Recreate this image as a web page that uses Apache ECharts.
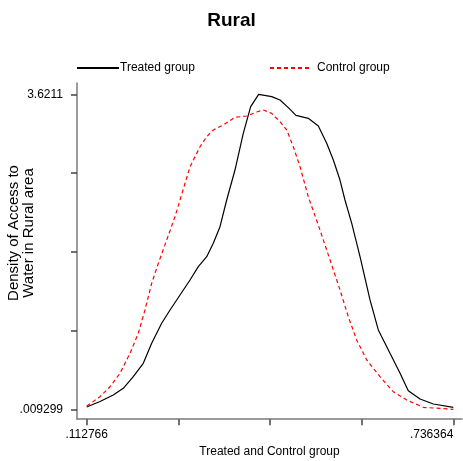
<!DOCTYPE html>
<html>
<head>
<meta charset="utf-8">
<script src="https://cdn.jsdelivr.net/npm/echarts@6/dist/echarts.min.js"></script>
<style>
  html, body { margin: 0; padding: 0; background: #fff; }
  #chart { width: 463px; height: 461px; }
</style>
</head>
<body>
<div id="chart"></div>
<script>
// Kernel density estimates of access to water, rural area
var treatedX = [0.112766, 0.1354, 0.1580, 0.1750, 0.1920, 0.2090, 0.2233, 0.2403, 0.2545, 0.2715,
  0.2885, 0.3026, 0.3169, 0.3281, 0.3395, 0.3509, 0.3650, 0.3791, 0.3917, 0.4053,
  0.4275, 0.4416, 0.4557, 0.4688, 0.4897, 0.5068, 0.5210, 0.5323, 0.5436, 0.5521,
  0.5636, 0.5777, 0.5947, 0.6088, 0.6287, 0.6458, 0.6598, 0.6798, 0.7024, 0.736364];
var treatedY = [0.035, 0.099, 0.173, 0.250, 0.383, 0.537, 0.766, 0.996, 1.148, 1.320,
  1.492, 1.645, 1.759, 1.913, 2.103, 2.409, 2.753, 3.174, 3.479, 3.6211,
  3.594, 3.556, 3.468, 3.380, 3.346, 3.258, 3.059, 2.868, 2.638, 2.409,
  2.142, 1.759, 1.263, 0.919, 0.651, 0.422, 0.223, 0.127, 0.070, 0.032];

var controlX = [0.112766, 0.1354, 0.1524, 0.1694, 0.1864, 0.2005, 0.2119, 0.2233, 0.2346, 0.2489,
  0.2630, 0.2715, 0.2885, 0.3055, 0.3169, 0.3281, 0.3451, 0.3650, 0.3849, 0.4019,
  0.4132, 0.4275, 0.4416, 0.4530, 0.4642, 0.4756, 0.4897, 0.5096, 0.5267, 0.5437,
  0.5578, 0.5720, 0.5891, 0.6117, 0.6343, 0.6571, 0.6854, 0.736364];
var controlY = [0.045, 0.154, 0.268, 0.422, 0.651, 0.881, 1.148, 1.454, 1.683, 1.951,
  2.218, 2.409, 2.791, 3.020, 3.135, 3.212, 3.269, 3.357, 3.372, 3.418,
  3.441, 3.403, 3.307, 3.212, 3.020, 2.791, 2.447, 2.065, 1.721, 1.377,
  1.071, 0.804, 0.575, 0.383, 0.211, 0.116, 0.032, 0.009299];

// Axis extents (axis lines run a little past the data range)
var xExtent = [0.096266, 0.751163];
var yExtent = [-0.1019, 3.7507];

// Five evenly spaced ticks; only the ends are labelled
var xTickLabels = ['.112766', '', '', '', '.736364'];
var yTickLabels = ['.009299', '', '', '', '3.6211'];

var seriesNames = ['Treated group', 'Control group'];

function pairs(xs, ys) {
  return xs.map(function (x, i) { return [x, ys[i]]; });
}

var font = '"Liberation Sans", Arial, sans-serif';
var axisGray = '#7a7a7a';
var tickStyle = { color: '#444', width: 1.5 };

var chart = echarts.init(document.getElementById('chart'), null, { renderer: 'canvas' });

var legendBase = {
  top: 62,
  padding: 0,
  itemWidth: 42,
  itemHeight: 14,
  itemStyle: { opacity: 0 },
  textStyle: { fontFamily: font, fontSize: 12, color: '#000' }
};

// A hidden axis used to complete a grid that only carries ticks on one side
function hiddenAxis(gridIndex) {
  return {
    gridIndex: gridIndex, type: 'value', min: 0, max: 1, show: false
  };
}

chart.setOption({
  animation: false,
  backgroundColor: '#fff',
  title: {
    text: 'Rural',
    left: 'center',
    top: 6,
    textStyle: { fontFamily: font, fontWeight: 'bold', fontSize: 19, color: '#000' }
  },
  legend: [
    Object.assign({}, legendBase, {
      data: [seriesNames[0]],
      left: 76,
      textStyle: { fontFamily: font, fontSize: 12, color: '#000', padding: [0, 0, 0, -4] }
    }),
    Object.assign({}, legendBase, {
      data: [seriesNames[1]],
      left: 269
    })
  ],
  grid: [
    // plotting area, bounded by the axis lines
    { left: 77, right: 1, top: 83, bottom: 42, outerBoundsMode: 'none' },
    // x ticks: span of the data along the bottom axis line
    { left: 86.7, right: 9.7, top: 94.3, bottom: 41.7, outerBoundsMode: 'none' },
    // y ticks: span of the data along the left axis line
    { left: 77, right: 1, top: 94.3, bottom: 51.7, outerBoundsMode: 'none' }
  ],
  xAxis: [{
    gridIndex: 0,
    type: 'value',
    min: xExtent[0],
    max: xExtent[1],
    axisLine: { show: true, onZero: false, lineStyle: { color: axisGray, width: 1.5 } },
    axisTick: { show: false },
    axisLabel: { show: false },
    splitLine: { show: false },
    name: 'Treated and Control group',
    nameLocation: 'middle',
    nameGap: 27,
    nameTextStyle: { fontFamily: font, fontSize: 12, color: '#000' }
  }, {
    gridIndex: 1,
    type: 'value',
    min: 0,
    max: 4,
    interval: 1,
    axisLine: { show: false, onZero: false },
    axisTick: { show: true, length: 6, lineStyle: tickStyle },
    axisLabel: {
      show: true,
      margin: 9,
      fontFamily: font,
      fontSize: 12,
      color: '#000',
      alignMaxLabel: 'right',
      formatter: function (v) { return xTickLabels[Math.round(v)] || ''; }
    },
    splitLine: { show: false }
  }, hiddenAxis(2)],
  yAxis: [{
    gridIndex: 0,
    type: 'value',
    min: yExtent[0],
    max: yExtent[1],
    axisLine: { show: true, onZero: false, lineStyle: { color: axisGray, width: 1.5 } },
    axisTick: { show: false },
    axisLabel: { show: false },
    splitLine: { show: false },
    name: 'Density of Access to\nWater in Rural area',
    nameLocation: 'middle',
    nameGap: 41,
    nameRotate: 90,
    nameTextStyle: { fontFamily: font, fontSize: 15, color: '#000', lineHeight: 15, padding: [0, 0, 0, 36] }
  }, hiddenAxis(1), {
    gridIndex: 2,
    type: 'value',
    min: 0,
    max: 4,
    interval: 1,
    axisLine: { show: false, onZero: false },
    axisTick: { show: true, length: 6, lineStyle: tickStyle },
    axisLabel: {
      show: true,
      margin: 14,
      fontFamily: font,
      fontSize: 12,
      color: '#000',
      formatter: function (v) { return yTickLabels[Math.round(v)] || ''; }
    },
    splitLine: { show: false }
  }],
  series: [{
    name: seriesNames[0],
    type: 'line',
    xAxisIndex: 0,
    yAxisIndex: 0,
    data: pairs(treatedX, treatedY),
    symbol: 'none',
    showSymbol: false,
    smooth: false,
    lineStyle: { color: '#000', width: 1.2 },
    itemStyle: { color: '#000' }
  }, {
    name: seriesNames[1],
    type: 'line',
    xAxisIndex: 0,
    yAxisIndex: 0,
    data: pairs(controlX, controlY),
    symbol: 'none',
    showSymbol: false,
    smooth: false,
    lineStyle: { color: '#ff0000', width: 1.2, type: [4, 3] },
    itemStyle: { color: '#ff0000' }
  }]
});
</script>
</body>
</html>
